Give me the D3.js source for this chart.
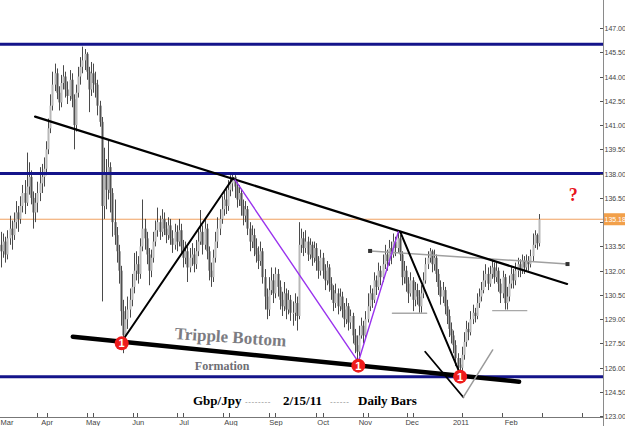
<!DOCTYPE html>
<html><head><meta charset="utf-8">
<script src="https://cdn.jsdelivr.net/npm/d3@7"></script>
<style>html,body{margin:0;padding:0;background:#fff;}svg{display:block;}</style>
</head><body><svg id="c" width="625" height="426"></svg>
<script>
// ---------- DATA ----------
const opens = [133.6,133.2,133.8,133.0,134.0,134.6,134.2,135.0,135.6,135.2,136.0,136.8,136.2,137.2,137.8,136.5,135.6,136.2,136.8,137.4,137.8,138.3,139.5,140.8,142.2,143.5,144.2,143.0,142.4,143.6,144.0,143.2,142.8,143.8,142.6,141.0,143.0,144.0,144.6,145.0,145.4,144.3,143.2,144.2,143.6,143.5,142.2,141.2,136.0,138.0,137.0,138.4,136.8,135.0,134.2,133.2,132.0,129.5,128.0,129.0,129.6,130.2,131.0,132.0,132.4,131.8,133.5,134.6,134.0,133.0,132.0,132.8,133.8,134.5,135.0,134.4,135.2,134.6,134.2,134.8,134.0,133.6,134.4,133.8,134.5,133.5,132.8,133.2,132.2,132.8,133.0,132.4,133.2,133.8,134.4,133.6,134.6,133.2,132.0,131.6,132.8,133.8,134.6,135.2,135.8,136.4,136.0,137.0,137.4,137.8,137.2,136.4,136.8,136.0,135.4,135.8,134.6,133.8,134.2,133.4,133.0,132.6,133.2,131.6,130.4,129.6,130.8,131.4,130.6,131.8,131.0,130.2,129.8,130.6,129.6,130.2,129.4,129.4,130.0,129.2,133.6,134.0,133.4,133.8,133.0,133.6,132.8,133.4,132.6,132.0,132.8,132.0,131.4,132.2,131.2,130.8,130.0,130.6,129.8,130.4,129.6,129.0,129.8,128.8,129.2,128.0,127.4,127.0,128.0,128.6,128.0,129.0,129.8,130.6,130.2,131.4,131.0,132.0,131.6,132.4,133.0,132.6,133.4,133.0,133.8,133.4,134.0,133.0,131.6,132.0,131.2,130.6,131.4,130.2,130.8,130.4,129.8,130.6,131.4,132.4,132.8,133.2,132.4,132.8,131.8,131.0,130.4,130.8,129.8,129.2,128.4,128.0,127.4,126.6,126.2,126.0,126.8,127.6,128.4,128.2,129.0,129.4,129.2,130.0,130.4,130.8,131.4,131.8,131.2,131.8,132.2,131.6,132.0,131.2,130.6,131.6,130.0,130.4,131.2,131.8,131.4,132.0,132.4,132.0,132.6,132.2,132.6,132.4,132.9,133.6,134.2,133.7];
const highs = [134.4,134.3,134.1,134.5,135.4,135.1,135.6,136.3,136.0,136.6,137.3,137.6,139.3,138.7,138.2,136.9,136.8,137.5,138.4,138.6,139.0,140.0,141.4,142.9,144.3,144.8,144.5,143.4,144.1,144.7,144.3,143.7,144.4,144.2,142.9,143.5,144.6,145.2,145.85,145.7,145.5,144.6,144.9,144.8,144.3,143.8,142.5,141.5,139.6,138.9,140.1,138.7,137.1,136.4,134.7,133.6,132.3,130.2,129.8,130.4,130.9,131.8,133.1,133.2,132.9,134.0,136.4,135.2,134.4,133.4,133.3,134.4,135.1,135.9,135.4,135.8,135.6,135.0,135.3,135.2,134.5,134.9,134.8,135.2,134.9,133.9,133.8,133.5,133.4,133.7,133.4,133.9,134.5,135.75,134.8,135.2,134.9,133.5,132.5,133.3,134.4,135.3,135.8,136.6,137.0,137.1,137.6,137.9,138.0,137.9,137.5,137.3,137.0,136.4,136.3,136.0,135.0,134.8,134.6,134.0,133.5,133.8,133.4,132.1,130.9,131.6,132.2,131.8,132.2,132.1,131.4,130.7,131.3,130.9,130.8,130.5,130.1,130.6,130.4,135.0,134.6,134.4,134.5,134.1,134.0,133.8,133.8,133.7,132.9,133.3,133.1,132.4,132.6,132.4,131.6,131.1,131.2,130.9,130.9,130.7,130.0,130.3,130.0,129.6,129.4,128.4,128.0,128.6,129.1,128.9,129.5,130.6,131.1,130.9,131.9,131.7,132.5,132.3,133.0,133.6,133.3,133.9,133.8,134.3,134.1,134.4,134.2,133.2,132.6,132.3,131.6,131.9,131.6,131.3,131.2,130.8,131.1,131.9,132.8,133.2,133.4,133.3,133.3,133.0,132.1,131.4,131.3,131.0,130.2,129.6,128.8,128.3,127.7,126.9,126.6,127.3,128.2,128.9,128.8,129.5,129.9,129.7,130.6,130.9,131.3,132.0,132.4,132.2,132.3,132.7,132.5,132.5,132.2,131.5,132.0,131.8,131.0,131.7,132.3,132.1,132.5,132.8,132.7,133.0,132.9,133.0,132.9,133.3,134.3,134.5,134.3,135.5];
const lows = [132.2,132.8,132.5,132.7,133.6,133.3,133.9,134.6,134.4,134.9,135.6,135.5,136.0,136.7,136.1,134.6,135.0,135.6,136.3,136.8,137.2,137.9,139.2,140.5,141.9,143.1,142.6,141.9,142.1,143.2,142.7,142.3,142.5,142.1,139.5,140.6,142.7,143.5,144.2,144.4,143.8,141.8,142.8,143.0,142.7,141.6,140.9,130.1,135.2,135.8,136.4,135.6,134.1,133.6,132.5,131.2,128.6,126.9,127.4,128.4,129.1,129.8,130.6,131.4,131.2,131.5,133.2,133.3,132.4,131.1,131.6,132.5,133.5,134.1,133.9,134.1,134.2,133.7,133.9,133.6,133.1,133.3,133.2,133.5,133.0,132.2,132.4,131.3,131.9,132.3,131.9,132.1,132.9,133.6,133.0,133.3,132.7,131.4,131.0,131.3,132.5,133.4,134.2,134.9,135.4,135.5,135.7,136.6,136.9,136.5,135.9,136.0,135.4,134.8,135.0,134.2,133.2,133.4,132.9,132.5,132.1,132.3,131.2,129.6,129.0,129.2,130.5,130.0,130.3,130.4,129.6,129.2,129.5,129.0,129.3,128.9,128.6,128.9,128.3,129.0,133.1,132.9,133.1,132.6,132.7,132.3,132.5,132.0,131.5,131.7,131.5,130.8,131.1,130.7,130.2,129.5,129.7,129.3,129.5,129.1,128.5,128.7,128.3,128.4,127.5,126.9,126.4,126.7,127.8,127.5,127.8,128.8,129.5,129.7,130.0,130.5,130.8,131.1,131.3,132.1,132.0,132.3,132.4,132.8,132.9,133.1,132.6,131.1,131.2,130.7,130.0,130.4,129.5,129.8,129.9,129.4,129.4,130.3,131.2,132.1,132.5,131.9,132.0,131.3,130.5,129.9,130.0,129.3,128.7,127.9,127.5,126.9,126.1,125.8,125.6,125.7,126.5,127.3,127.7,128.0,128.7,128.8,129.0,129.7,130.1,130.6,131.0,130.8,131.0,131.5,131.2,131.3,130.7,130.0,130.3,129.6,129.6,130.1,130.9,130.9,131.1,131.6,131.6,131.8,131.8,132.0,132.0,132.2,132.6,133.4,133.3,133.5];
const closes = [133.2,133.8,133.0,134.0,134.6,134.2,135.0,135.6,135.2,136.0,136.8,136.2,137.2,137.8,136.5,135.6,136.2,136.8,137.4,137.8,138.3,139.5,140.8,142.2,143.5,144.2,143.0,142.4,143.6,144.0,143.2,142.8,143.8,142.6,141.0,143.0,144.0,144.6,145.0,145.4,144.3,143.2,144.2,143.6,143.5,142.2,141.2,136.0,138.0,137.0,138.4,136.8,135.0,134.2,133.2,132.0,129.5,128.0,129.0,129.6,130.2,131.0,132.0,132.4,131.8,133.5,134.6,134.0,133.0,132.0,132.8,133.8,134.5,135.0,134.4,135.2,134.6,134.2,134.8,134.0,133.6,134.4,133.8,134.5,133.5,132.8,133.2,132.2,132.8,133.0,132.4,133.2,133.8,134.4,133.6,134.6,133.2,132.0,131.6,132.8,133.8,134.6,135.2,135.8,136.4,136.0,137.0,137.4,137.8,137.2,136.4,136.8,136.0,135.4,135.8,134.6,133.8,134.2,133.4,133.0,132.6,133.2,131.6,130.4,129.6,130.8,131.4,130.6,131.8,131.0,130.2,129.8,130.6,129.6,130.2,129.4,129.4,130.0,129.2,133.6,134.0,133.4,133.8,133.0,133.6,132.8,133.4,132.6,132.0,132.8,132.0,131.4,132.2,131.2,130.8,130.0,130.6,129.8,130.4,129.6,129.0,129.8,128.8,129.2,128.0,127.4,127.0,128.0,128.6,128.0,129.0,129.8,130.6,130.2,131.4,131.0,132.0,131.6,132.4,133.0,132.6,133.4,133.0,133.8,133.4,134.0,133.0,131.6,132.0,131.2,130.6,131.4,130.2,130.8,130.4,129.8,130.6,131.4,132.4,132.8,133.2,132.4,132.8,131.8,131.0,130.4,130.8,129.8,129.2,128.4,128.0,127.4,126.6,126.2,126.0,126.8,127.6,128.4,128.2,129.0,129.4,129.2,130.0,130.4,130.8,131.4,131.8,131.2,131.8,132.2,131.6,132.0,131.2,130.6,131.6,130.0,130.4,131.2,131.8,131.4,132.0,132.4,132.0,132.6,132.2,132.6,132.4,132.9,133.6,134.2,133.7,135.18];

// x-axis month labels (bar index where each month starts) and tick marks
const monthLabels = ["Mar","Apr","May","Jun","Jul","Aug","Sep","Oct","Nov","Dec","2011","Feb"];
const monthIdx = [-0.8,21.5,43,64,85.4,107.3,128.3,150.3,170,191.8,214.6,238];
const xTickIdx = [16.8,21.5,40.1,42.9,61.6,63.5,82.1,84.9,103.6,106.4,125.1,127.9,147,150.3,168.9,171.3,189.5,192.3,215.1,233.8,252.5,271.1];
const yTicks = [123,124.5,126,127.5,129,130.5,132,133.5,135,136.5,138,139.5,141,142.5,144,145.5,147];

// annotations (bar index, price)
const levels = [146.0, 138.0, 125.45];
const lastPrice = 135.18;
const resistLine = [[15.9,141.52],[264.1,131.18]];
const supportLine = [[33.5,127.92],[241.7,125.14]];
const riseLine = [[57.9,127.92],[108.3,137.73]];
const purpleLine = [[109.2,137.61],[166.7,126.36],[185.4,134.41]];
const dropLine = [[186.2,134.41],[214.2,125.62]];
const vLeft = [[197.9,126.99],[215.7,124.18]];
const vRight = [[215.7,124.18],[229.4,127.10]];
const neckLine = [[172.2,133.22],[264.3,132.41]];
const shortSupports = [[[182.6,129.37],[198.6,129.37]],[[229.4,129.53],[245.3,129.53]]];
const bottoms = [[56.3,127.51],[166.7,126.13],[214.2,125.45]];

// ---------- CHART ----------
const svg = d3.select("#c");
const W = 625, H = 426, plotR = 603, axisY = 417;
const x = d3.scaleLinear().domain([0, 251]).range([1, 539]);
const y = d3.scaleLinear().domain([123, 147]).range([416.3, 28]);

svg.append("defs").append("clipPath").attr("id","pc")
  .append("rect").attr("x",0).attr("y",0).attr("width",plotR).attr("height",axisY);
const g = svg.append("g").attr("clip-path","url(#pc)");

// last price line
g.append("line").attr("x1",0).attr("x2",plotR).attr("y1",y(lastPrice)).attr("y2",y(lastPrice))
  .attr("stroke","#f0a060").attr("stroke-width",1);

// candles
const bars = d3.range(closes.length).map(i => ({i, o:opens[i], h:highs[i], l:lows[i], c:closes[i]}));
const cg = g.append("g");
cg.selectAll("line.w").data(bars).join("line").attr("class","w")
  .attr("x1",d=>Math.round(x(d.i))+0.5).attr("x2",d=>Math.round(x(d.i))+0.5)
  .attr("y1",d=>y(d.h)).attr("y2",d=>y(d.l))
  .attr("stroke","#4a4a4a").attr("stroke-width",1);
cg.selectAll("rect.b").data(bars).join("rect").attr("class","b")
  .attr("x",d=>Math.round(x(d.i))-0.5).attr("width",2)
  .attr("y",d=>y(Math.max(d.o,d.c)))
  .attr("height",d=>Math.max(1, Math.abs(y(d.o)-y(d.c))))
  .attr("fill",d=>d.c>=d.o ? "#b8b8b8" : "#505050");

// horizontal navy levels
g.selectAll("line.lv").data(levels).join("line").attr("class","lv")
  .attr("x1",0).attr("x2",plotR).attr("y1",d=>y(d)).attr("y2",d=>y(d))
  .attr("stroke","#14148a").attr("stroke-width",3);

const line = d3.line().x(d=>x(d[0])).y(d=>y(d[1]));
function path(data, color, w){
  g.append("path").attr("d",line(data)).attr("fill","none")
   .attr("stroke",color).attr("stroke-width",w).attr("stroke-linecap","round").attr("stroke-linejoin","round");
}
shortSupports.forEach(s=>path(s,"#a8a8a8",1.3));
path(neckLine,"#a0a0a0",1.5);
g.selectAll("rect.nk").data(neckLine).join("rect").attr("class","nk")
  .attr("x",d=>x(d[0])-2).attr("y",d=>y(d[1])-2).attr("width",4).attr("height",4).attr("fill","#333");
path(resistLine,"#000",2.2);
path(supportLine,"#000",4.5);
path(riseLine,"#000",2);
path(purpleLine,"#9a33ee",1.4);
path(dropLine,"#000",2);
path(vLeft,"#000",1.8);
path(vRight,"#9a9a9a",1.5);

// bottom markers
const bg = g.selectAll("g.bt").data(bottoms).join("g").attr("class","bt")
  .attr("transform",d=>`translate(${x(d[0])},${y(d[1])})`);
bg.append("circle").attr("r",7).attr("fill","#ee1c1c");
bg.append("text").text("1").attr("text-anchor","middle").attr("y",4)
  .attr("fill","#fff").attr("font-family","Liberation Sans, Arial, sans-serif")
  .attr("font-weight","bold").attr("font-size",11);

// texts
const tb = x(106.9), ty = y(127.55);
svg.append("text").text("Tripple Bottom")
  .attr("transform",`translate(${tb},${ty}) rotate(3.8)`)
  .attr("text-anchor","middle").attr("font-family","Liberation Serif, Times New Roman, serif")
  .attr("font-weight","bold").attr("font-size",17).attr("fill","#7c7c82");
svg.append("text").text("Formation").attr("x",x(103.2)).attr("y",y(125.85))
  .attr("text-anchor","middle").attr("font-family","Liberation Serif, Times New Roman, serif")
  .attr("font-weight","bold").attr("font-size",12).attr("fill","#6e6e74");
svg.append("text").text("?").attr("x",x(267)).attr("y",y(136.3))
  .attr("text-anchor","middle").attr("font-family","Liberation Serif, Times New Roman, serif")
  .attr("font-weight","bold").attr("font-size",18).attr("fill","#e8141c");

// title
const titleParts = [["Gbp/Jpy",193,false],["--------",245,true],["2/15/11",283,false],["------",330,true],["Daily Bars",358,false]];
const title = svg.append("text").attr("font-family","Liberation Serif, Times New Roman, serif")
  .attr("font-size",13).attr("font-weight","bold");
titleParts.forEach(([t,px,dash])=>{
  const s = title.append("tspan").attr("x",px).attr("y",dash?404:405).text(t).attr("fill",dash?"#888":"#000");
  if (dash) s.attr("font-weight","normal").attr("font-family","Liberation Sans, Arial, sans-serif").attr("font-size",8).attr("letter-spacing",0.6);
});

// y axis
svg.append("line").attr("x1",plotR+0.5).attr("x2",plotR+0.5).attr("y1",0).attr("y2",H).attr("stroke","#8a8a8a");
svg.selectAll("line.yt").data(yTicks).join("line").attr("class","yt")
  .attr("x1",plotR-3).attr("x2",plotR).attr("y1",d=>Math.round(y(d))+0.5).attr("y2",d=>Math.round(y(d))+0.5)
  .attr("stroke","#555");
svg.selectAll("text.yl").data(yTicks.filter(v => Math.abs(y(v)-y(lastPrice)) > 8)).join("text").attr("class","yl")
  .attr("x",plotR+1.5).attr("y",d=>Math.min(y(d)+3, 422)).text(d=>d.toFixed(2))
  .attr("font-family","Liberation Sans, Arial, sans-serif").attr("font-size",7).attr("fill","#444");

// last price tag
svg.append("rect").attr("x",plotR+1).attr("y",y(lastPrice)-6).attr("width",W-plotR).attr("height",12).attr("fill","#f2a04a");
svg.append("text").attr("x",plotR+1.5).attr("y",y(lastPrice)+3).text(lastPrice.toFixed(2))
  .attr("font-family","Liberation Sans, Arial, sans-serif").attr("font-size",7).attr("fill","#fff");

// x axis
svg.append("rect").attr("x",0).attr("y",axisY).attr("width",plotR).attr("height",H-axisY).attr("fill","#fff");
svg.append("line").attr("x1",0).attr("x2",plotR).attr("y1",axisY+0.5).attr("y2",axisY+0.5).attr("stroke","#777");
svg.selectAll("line.xt").data(xTickIdx).join("line").attr("class","xt")
  .attr("x1",d=>Math.round(x(d))+0.5).attr("x2",d=>Math.round(x(d))+0.5).attr("y1",axisY-4).attr("y2",axisY)
  .attr("stroke","#555");
svg.selectAll("text.xl").data(monthLabels).join("text").attr("class","xl")
  .attr("x",(d,i)=>Math.max(x(monthIdx[i]), i===0 ? 7 : 0)).attr("y",425).attr("text-anchor","middle").text(d=>d)
  .attr("font-family","Liberation Sans, Arial, sans-serif").attr("font-size",7.5).attr("fill","#444");
</script></body></html>
